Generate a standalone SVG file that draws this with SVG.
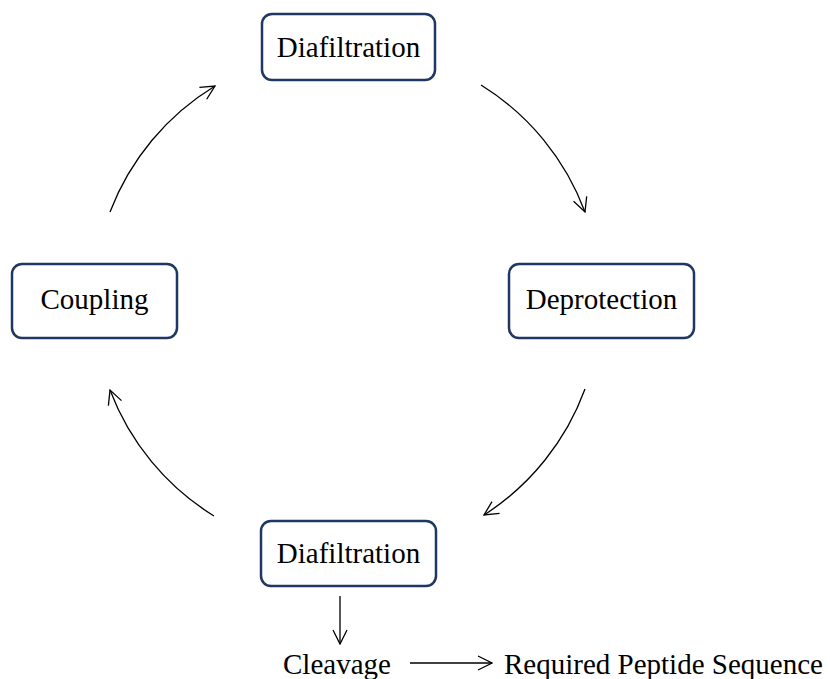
<svg xmlns="http://www.w3.org/2000/svg" width="830" height="679" viewBox="0 0 830 679">
<defs>
<style>
.box{fill:#fff;stroke:#1f3763;stroke-width:2.5}
.lbl{font-family:"Liberation Serif","Times New Roman",serif;font-size:29px;fill:#000;text-anchor:middle}
.txt{font-family:"Liberation Serif","Times New Roman",serif;font-size:29px;fill:#000}
.con{fill:none;stroke:#000;stroke-width:1.3;marker-end:url(#arr)}
</style>
<marker id="arr" viewBox="0 0 16 16" refX="15" refY="8" markerWidth="16" markerHeight="16" markerUnits="userSpaceOnUse" orient="auto">
<path d="M1,1 L15,8 L1,15" fill="none" stroke="#000" stroke-width="1.3"/>
</marker>
</defs>
<rect width="830" height="679" fill="#fff"/>
<g id="connectors">
<path class="con" d="M481,85 A253,253 0 0 1 585,212"/>
<path class="con" d="M585,389 A253,253 0 0 1 484,515"/>
<path class="con" d="M214,516 A253,253 0 0 1 110,390"/>
<path class="con" d="M110,212 A253,253 0 0 1 215,86"/>
<path class="con" d="M340,596 L340,644"/>
<path class="con" d="M410,663 L492,663"/>
</g>
<g id="diafiltration-top">
<rect class="box" x="262" y="14" width="173" height="66" rx="10"/>
<text class="lbl" x="348.5" y="57">Diafiltration</text>
</g>
<g id="deprotection">
<rect class="box" x="509" y="264" width="185" height="74" rx="10"/>
<text class="lbl" x="601.5" y="309">Deprotection</text>
</g>
<g id="coupling">
<rect class="box" x="12" y="264" width="165" height="74" rx="10"/>
<text class="lbl" x="94.5" y="309">Coupling</text>
</g>
<g id="diafiltration-bottom">
<rect class="box" x="261" y="521" width="175" height="65" rx="10"/>
<text class="lbl" x="348.5" y="563">Diafiltration</text>
</g>
<g id="cleavage">
<text class="txt" x="283" y="674">Cleavage</text>
</g>
<g id="product">
<text class="txt" x="504" y="674">Required Peptide Sequence</text>
</g>
</svg>
